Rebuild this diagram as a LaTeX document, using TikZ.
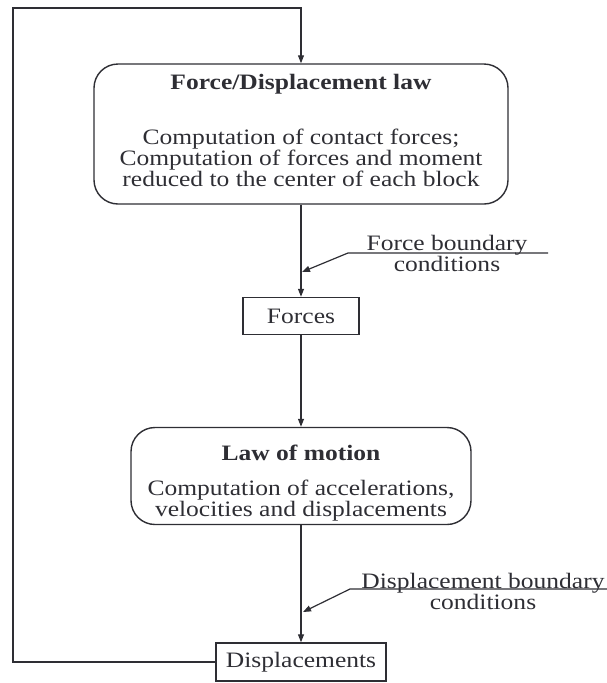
\documentclass[tikz,border=0pt]{standalone}
\usepackage{fontspec}
\setmainfont{Liberation Serif}[FakeStretch=1.16]
\usetikzlibrary{arrows.meta}
\definecolor{ink}{HTML}{2E2E34}
\begin{document}
\begin{tikzpicture}[x=1pt,y=-1pt,
  every node/.style={text=ink,font=\fontsize{22}{21}\selectfont},
  rbox/.style={draw=ink,line width=1.4pt,rounded corners=24pt,inner sep=0pt},
  sbox/.style={draw=ink,line width=1.4pt,inner sep=0pt},
  conn/.style={draw=ink,line width=1.2pt},
  arr/.style={conn,-{Triangle[length=8pt,width=6pt]}},
  txt/.style={inner sep=0pt,align=center}]
\useasboundingbox (0,0) rectangle (607,683);
% boxes
\node[rbox,minimum width=414pt,minimum height=140pt] (fd) at (301,134) {};
\node[sbox,minimum width=116pt,minimum height=37pt] (forces) at (301,316) {};
\node[rbox,minimum width=340pt,minimum height=97pt] (lm) at (301,476) {};
\node[sbox,minimum width=170pt,minimum height=38pt] (disp) at (301,662) {};
% texts
\node[txt] (fdt) at (301,84) {\textbf{Force/Displacement law}};
\node[txt] (fdb) at (301,158) {Computation of contact forces;\\Computation of forces and moment\\reduced to the center of each block};
\node[txt] (ft) at (301,316) {Forces};
\node[txt] (lmt) at (301,453) {\textbf{Law of motion}};
\node[txt] (lmb) at (301,501) {Computation of accelerations,\\velocities and displacements};
\node[txt] (dt) at (301,662) {Displacements};
\node[txt] (fbc) at (447,253) {Force boundary\\conditions};
\node[txt] (dbc) at (483,591) {Displacement boundary\\conditions};
% annotation coordinates
\coordinate (fb1) at (548,253);
\coordinate (fb2) at (348,253);
\coordinate (fj) at (302,272);
\coordinate (db1) at (607,589);
\coordinate (db2) at (350,589);
\coordinate (dj) at (303,612);
\coordinate (lp1) at (13,662);
\coordinate (lp2) at (13,8);
\coordinate (lp3) at (301,8);
% connectors
\draw[arr] (fd.south) -- (forces.north);
\draw[arr] (forces.south) -- (lm.north);
\draw[arr] (lm.south) -- (disp.north);
\draw[arr] (fb1) -- (fb2) -- (fj);
\draw[arr] (db1) -- (db2) -- (dj);
\draw[arr] (disp.west) -- (lp1) -- (lp2) -- (lp3) -- (fd.north);
\end{tikzpicture}
\end{document}
